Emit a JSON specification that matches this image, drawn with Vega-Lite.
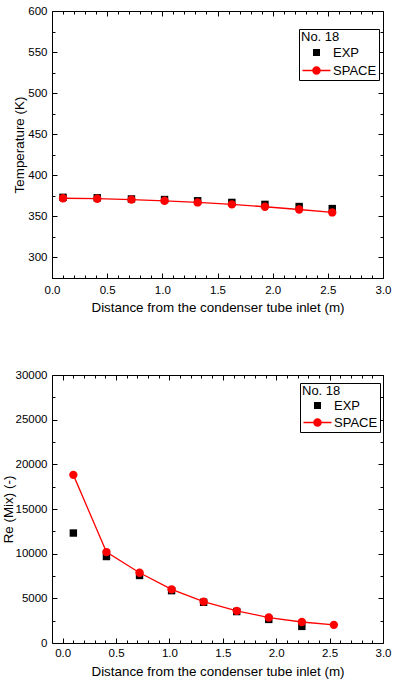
{
  "$schema": "https://vega.github.io/schema/vega-lite/v6.json",
  "background": "white",
  "padding": {"left": 0, "top": 4, "right": 2, "bottom": 5},
  "bounds": "flush",
  "spacing": 97,
  "config": {
    "view": {"stroke": "black", "strokeWidth": 1},
    "font": "Liberation Sans",
    "axis": {"labelFont": "Liberation Sans", "titleFont": "Liberation Sans", "labelFontSize": 11.5, "titleFontSize": 13.4, "titleFontWeight": "normal", "labelColor": "black", "titleColor": "black", "tickColor": "black", "domain": false, "grid": false, "tickWidth": 1},
    "legend": {"titleFont": "Liberation Sans", "labelFont": "Liberation Sans"}
  },
  "resolve": {"scale": {"color": "independent", "shape": "independent"}, "legend": {"color": "independent", "shape": "independent"}},
  "datasets": {
    "temp": [
      {"x": 0.1, "value": 373.2, "series": "EXP"},
      {"x": 0.41, "value": 372.6, "series": "EXP"},
      {"x": 0.72, "value": 371.2, "series": "EXP"},
      {"x": 1.02, "value": 370.5, "series": "EXP"},
      {"x": 1.32, "value": 369.0, "series": "EXP"},
      {"x": 1.63, "value": 367.0, "series": "EXP"},
      {"x": 1.93, "value": 364.6, "series": "EXP"},
      {"x": 2.24, "value": 362.0, "series": "EXP"},
      {"x": 2.54, "value": 359.5, "series": "EXP"},
      {"x": 0.1, "value": 372.1, "series": "SPACE"},
      {"x": 0.41, "value": 371.5, "series": "SPACE"},
      {"x": 0.72, "value": 370.4, "series": "SPACE"},
      {"x": 1.02, "value": 369.0, "series": "SPACE"},
      {"x": 1.32, "value": 367.0, "series": "SPACE"},
      {"x": 1.63, "value": 364.6, "series": "SPACE"},
      {"x": 1.93, "value": 361.7, "series": "SPACE"},
      {"x": 2.24, "value": 358.4, "series": "SPACE"},
      {"x": 2.54, "value": 354.8, "series": "SPACE"}
    ],
    "re": [
      {"x": 0.1, "value": 12310, "series": "EXP"},
      {"x": 0.41, "value": 9680, "series": "EXP"},
      {"x": 0.72, "value": 7560, "series": "EXP"},
      {"x": 1.02, "value": 5860, "series": "EXP"},
      {"x": 1.32, "value": 4560, "series": "EXP"},
      {"x": 1.63, "value": 3520, "series": "EXP"},
      {"x": 1.93, "value": 2640, "series": "EXP"},
      {"x": 2.24, "value": 1860, "series": "EXP"},
      {"x": 0.1, "value": 18820, "series": "SPACE"},
      {"x": 0.41, "value": 10180, "series": "SPACE"},
      {"x": 0.72, "value": 7860, "series": "SPACE"},
      {"x": 1.02, "value": 6010, "series": "SPACE"},
      {"x": 1.32, "value": 4630, "series": "SPACE"},
      {"x": 1.63, "value": 3600, "series": "SPACE"},
      {"x": 1.93, "value": 2850, "series": "SPACE"},
      {"x": 2.24, "value": 2350, "series": "SPACE"},
      {"x": 2.54, "value": 2030, "series": "SPACE"}
    ]
  },
  "vconcat": [
    {
      "width": 331,
      "height": 267,
      "data": {"name": "temp"},
      "resolve": {"axis": {"x": "independent", "y": "independent"}},
      "layer": [
        {
          "transform": [{"filter": "datum.series === 'EXP'"}],
          "mark": {"type": "point", "filled": true, "opacity": 1, "shape": "square", "size": 55, "color": "black"},
          "encoding": {
            "x": {"field": "x", "type": "quantitative", "scale": {"domain": [0, 3], "nice": false, "zero": false},
              "axis": {"orient": "bottom", "title": "Distance from the condenser tube inlet (m)", "values": [0,0.1,0.2,0.3,0.4,0.5,0.6,0.7,0.8,0.9,1,1.1,1.2,1.3,1.4,1.5,1.6,1.7,1.8,1.9,2,2.1,2.2,2.3,2.4,2.5,2.6,2.7,2.8,2.9,3],
                "labelExpr": "abs(datum.value*2 - round(datum.value*2)) < 0.001 ? format(datum.value, '.1f') : ''",
                "tickSize": {"condition": {"test": "abs(datum.value*2 - round(datum.value*2)) < 0.001", "value": -5}, "value": -3},
                "labelPadding": 11, "labelFlush": false, "labelOverlap": false, "titlePadding": 3}},
            "y": {"field": "value", "type": "quantitative", "scale": {"domain": [275, 600], "nice": false, "zero": false},
              "axis": {"orient": "left", "title": "Temperature (K)", "values": [275,300,325,350,375,400,425,450,475,500,525,550,575,600],
                "labelExpr": "datum.value % 50 === 0 ? format(datum.value, 'd') : ''",
                "tickSize": {"condition": {"test": "datum.value % 50 === 0", "value": -5}, "value": -3},
                "labelPadding": 10, "labelFlush": false, "labelOverlap": false, "titlePadding": 1}}
          }
        },
        {
          "transform": [{"filter": "datum.series === 'SPACE'"}],
          "mark": {"type": "line", "color": "red", "strokeWidth": 1.3},
          "encoding": {
            "x": {"field": "x", "type": "quantitative",
              "axis": {"orient": "top", "title": null, "labels": false, "values": [0,0.1,0.2,0.3,0.4,0.5,0.6,0.7,0.8,0.9,1,1.1,1.2,1.3,1.4,1.5,1.6,1.7,1.8,1.9,2,2.1,2.2,2.3,2.4,2.5,2.6,2.7,2.8,2.9,3],
                "tickSize": {"condition": {"test": "abs(datum.value*2 - round(datum.value*2)) < 0.001", "value": -5}, "value": -3}}},
            "y": {"field": "value", "type": "quantitative",
              "axis": {"orient": "right", "title": null, "labels": false, "values": [275,300,325,350,375,400,425,450,475,500,525,550,575,600],
                "tickSize": {"condition": {"test": "datum.value % 50 === 0", "value": -5}, "value": -3}}}
          }
        },
        {
          "transform": [{"filter": "datum.series === 'SPACE'"}],
          "mark": {"type": "point", "filled": true, "opacity": 1, "size": 70, "color": "red", "shape": "circle"},
          "encoding": {
            "x": {"field": "x", "type": "quantitative", "axis": null},
            "y": {"field": "value", "type": "quantitative", "axis": null}
          }
        },
        {
          "transform": [{"filter": "datum.series === 'none'"}],
          "mark": {"type": "point", "filled": true, "opacity": 1, "size": 100},
          "encoding": {
            "x": {"field": "x", "type": "quantitative", "axis": null},
            "y": {"field": "value", "type": "quantitative", "axis": null},
            "color": {"field": "series", "type": "nominal", "scale": {"domain": ["EXP", "SPACE"], "range": ["black", "red"]},
              "legend": {"orient": "none", "legendX": 247, "legendY": 18, "title": "No. 18", "titleFontWeight": "normal", "titleFontSize": 13, "titleColor": "black", "titlePadding": 2,
                "labelFontSize": 13, "labelColor": "black", "strokeColor": "black", "fillColor": "white", "padding": 2, "symbolSize": 100, "symbolOpacity": 1, "labelOffset": 19, "rowPadding": 3}},
            "shape": {"field": "series", "type": "nominal", "scale": {"domain": ["EXP", "SPACE"], "range": ["M1.1,-0.7H2.5V0.7H1.1Z", "M-1,-0.13H4.6V0.13H-1ZM0.95,0A0.85,0.85,0,1,1,2.65,0A0.85,0.85,0,1,1,0.95,0Z"]},
              "legend": {"orient": "none", "legendX": 247, "legendY": 18, "title": "No. 18", "titleFontWeight": "normal", "titleFontSize": 13, "titleColor": "black", "titlePadding": 2,
                "labelFontSize": 13, "labelColor": "black", "strokeColor": "black", "fillColor": "white", "padding": 2, "symbolSize": 100, "symbolOpacity": 1, "labelOffset": 19, "rowPadding": 3}}
          }
        }
      ]
    },
    {
      "width": 331,
      "height": 268,
      "data": {"name": "re"},
      "resolve": {"axis": {"x": "independent", "y": "independent"}},
      "layer": [
        {
          "transform": [{"filter": "datum.series === 'EXP'"}],
          "mark": {"type": "point", "filled": true, "opacity": 1, "shape": "square", "size": 55, "color": "black"},
          "encoding": {
            "x": {"field": "x", "type": "quantitative", "scale": {"domain": [-0.1, 3], "nice": false, "zero": false},
              "axis": {"orient": "bottom", "title": "Distance from the condenser tube inlet (m)", "values": [0,0.1,0.2,0.3,0.4,0.5,0.6,0.7,0.8,0.9,1,1.1,1.2,1.3,1.4,1.5,1.6,1.7,1.8,1.9,2,2.1,2.2,2.3,2.4,2.5,2.6,2.7,2.8,2.9,3],
                "labelExpr": "abs(datum.value*2 - round(datum.value*2)) < 0.001 ? format(datum.value, '.1f') : ''",
                "tickSize": {"condition": {"test": "abs(datum.value*2 - round(datum.value*2)) < 0.001", "value": -5}, "value": -3},
                "labelPadding": 9, "labelFlush": false, "labelOverlap": false, "titlePadding": 4}},
            "y": {"field": "value", "type": "quantitative", "scale": {"domain": [0, 30000], "nice": false, "zero": false},
              "axis": {"orient": "left", "title": "Re (Mix) (-)", "values": [0,2500,5000,7500,10000,12500,15000,17500,20000,22500,25000,27500,30000],
                "labelExpr": "datum.value % 5000 === 0 ? format(datum.value, 'd') : ''",
                "tickSize": {"condition": {"test": "datum.value % 5000 === 0", "value": -5}, "value": -3},
                "labelPadding": 10, "labelFlush": false, "labelOverlap": false, "titlePadding": 0}}
          }
        },
        {
          "transform": [{"filter": "datum.series === 'SPACE'"}],
          "mark": {"type": "line", "color": "red", "strokeWidth": 1.3},
          "encoding": {
            "x": {"field": "x", "type": "quantitative",
              "axis": {"orient": "top", "title": null, "labels": false, "values": [0,0.1,0.2,0.3,0.4,0.5,0.6,0.7,0.8,0.9,1,1.1,1.2,1.3,1.4,1.5,1.6,1.7,1.8,1.9,2,2.1,2.2,2.3,2.4,2.5,2.6,2.7,2.8,2.9,3],
                "tickSize": {"condition": {"test": "abs(datum.value*2 - round(datum.value*2)) < 0.001", "value": -5}, "value": -3}}},
            "y": {"field": "value", "type": "quantitative",
              "axis": {"orient": "right", "title": null, "labels": false, "values": [0,2500,5000,7500,10000,12500,15000,17500,20000,22500,25000,27500,30000],
                "tickSize": {"condition": {"test": "datum.value % 5000 === 0", "value": -5}, "value": -3}}}
          }
        },
        {
          "transform": [{"filter": "datum.series === 'SPACE'"}],
          "mark": {"type": "point", "filled": true, "opacity": 1, "size": 70, "color": "red", "shape": "circle"},
          "encoding": {
            "x": {"field": "x", "type": "quantitative", "axis": null},
            "y": {"field": "value", "type": "quantitative", "axis": null}
          }
        },
        {
          "transform": [{"filter": "datum.series === 'none'"}],
          "mark": {"type": "point", "filled": true, "opacity": 1, "size": 100},
          "encoding": {
            "x": {"field": "x", "type": "quantitative", "axis": null},
            "y": {"field": "value", "type": "quantitative", "axis": null},
            "color": {"field": "series", "type": "nominal", "scale": {"domain": ["EXP", "SPACE"], "range": ["black", "red"]},
              "legend": {"orient": "none", "legendX": 248, "legendY": 8, "title": "No. 18", "titleFontWeight": "normal", "titleFontSize": 13, "titleColor": "black", "titlePadding": 1,
                "labelFontSize": 13, "labelColor": "black", "strokeColor": "black", "fillColor": "white", "padding": 2, "symbolSize": 100, "symbolOpacity": 1, "labelOffset": 19, "rowPadding": 2}},
            "shape": {"field": "series", "type": "nominal", "scale": {"domain": ["EXP", "SPACE"], "range": ["M1.1,-0.7H2.5V0.7H1.1Z", "M-1,-0.13H4.6V0.13H-1ZM0.95,0A0.85,0.85,0,1,1,2.65,0A0.85,0.85,0,1,1,0.95,0Z"]},
              "legend": {"orient": "none", "legendX": 248, "legendY": 8, "title": "No. 18", "titleFontWeight": "normal", "titleFontSize": 13, "titleColor": "black", "titlePadding": 1,
                "labelFontSize": 13, "labelColor": "black", "strokeColor": "black", "fillColor": "white", "padding": 2, "symbolSize": 100, "symbolOpacity": 1, "labelOffset": 19, "rowPadding": 2}}
          }
        }
      ]
    }
  ]
}
